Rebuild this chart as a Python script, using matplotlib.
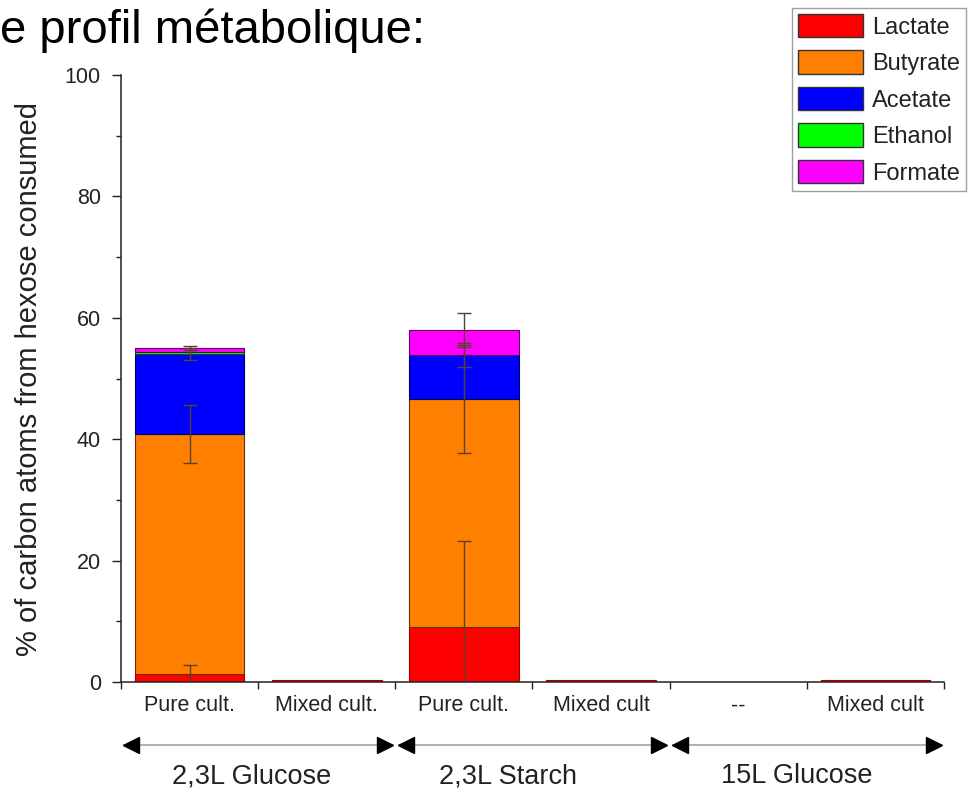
import matplotlib
matplotlib.use("Agg")
import matplotlib.pyplot as plt
import matplotlib.transforms as mtransforms
from matplotlib.patches import Patch
import numpy as np

plt.rcParams["font.family"] = ["Liberation Sans", "DejaVu Sans"]

# Six culture conditions along the x axis
categories = ["Pure cult.", "Mixed cult.", "Pure cult.", "Mixed cult", "--", "Mixed cult"]
groups = ["2,3L Glucose", "2,3L Starch", "15L Glucose"]

# % of carbon atoms from hexose consumed, per metabolite
lactate = [1.3, 0.4, 9.0, 0.4, 0.0, 0.4]
butyrate = [39.5, 0.0, 37.7, 0.0, 0.0, 0.0]
acetate = [13.2, 0.0, 7.2, 0.0, 0.0, 0.0]
ethanol = [0.3, 0.0, 0.0, 0.0, 0.0, 0.0]
formate = [0.7, 0.0, 4.1, 0.0, 0.0, 0.0]

# standard deviations on each stacked segment
lactate_err = [1.5, 0.0, 14.3, 0.0, 0.0, 0.0]
butyrate_err = [4.8, 0.0, 8.9, 0.0, 0.0, 0.0]
acetate_err = [1.0, 0.0, 2.0, 0.0, 0.0, 0.0]
ethanol_err = [0.0, 0.0, 0.0, 0.0, 0.0, 0.0]
formate_err = [0.3, 0.0, 2.8, 0.0, 0.0, 0.0]

# (name, values, errors, fill, outline)
series = [
    ("Lactate", lactate, lactate_err, "#ff0000", "#a00000"),
    ("Butyrate", butyrate, butyrate_err, "#ff8000", "#6a3000"),
    ("Acetate", acetate, acetate_err, "#0000ff", "#000060"),
    ("Ethanol", ethanol, ethanol_err, "#00ff00", "#006000"),
    ("Formate", formate, formate_err, "#ff00ff", "#600060"),
]

W, H = 978, 789
fig = plt.figure(figsize=(W / 100, H / 100), dpi=100)
ax = fig.add_axes([121 / W, 1 - 682 / H, (944 - 121) / W, (682 - 75) / H])

x = np.arange(len(categories))
bottom = np.zeros(len(categories))
err_tops = []
for name, vals, errs, col, edge in series:
    vals = np.array(vals)
    nz = vals > 0
    ax.bar(x[nz], vals[nz], width=0.8, bottom=bottom[nz], color=col,
           edgecolor=edge, linewidth=0.8, zorder=2)
    bottom = bottom + vals
    err_tops.append((bottom.copy(), np.array(errs)))

for tops, errs in err_tops:
    mask = errs > 0
    ax.errorbar(x[mask], tops[mask], yerr=errs[mask], fmt="none", ecolor="#5a4030",
                elinewidth=1.0, capsize=5, capthick=1.0, zorder=3)

ax.set_xlim(-0.5, len(categories) - 0.5)
ax.set_ylim(0, 100)
for s in ("top", "right"):
    ax.spines[s].set_visible(False)
for s in ("left", "bottom"):
    ax.spines[s].set_linewidth(1.1)
    ax.spines[s].set_color("#222222")

ax.set_yticks(np.arange(0, 101, 20))
ax.set_yticks(np.arange(10, 100, 20), minor=True)
ax.tick_params(axis="y", which="major", direction="out", length=6.5, width=1.0,
               labelsize=15.5, pad=8, colors="#222222")
ax.tick_params(axis="y", which="minor", direction="out", length=3.5, width=1.0,
               colors="#222222")

ax.set_xticks(np.arange(-0.5, len(categories), 1.0))
ax.set_xticklabels([])
ax.tick_params(axis="x", which="major", direction="out", length=5, width=1.0,
               colors="#222222")

trans = mtransforms.blended_transform_factory(ax.transData, ax.transAxes)
for xi, lab in zip(x, categories):
    ax.text(xi, -0.0395, lab, transform=trans, ha="center", va="center",
            fontsize=15.5, color="#222222")

# double-headed arrows spanning each experiment group
spans = [(-0.5, 1.5), (1.5, 3.5), (3.5, 5.5)]
label_shift = [-0.045, -0.18, -0.075]
y_arrow = -0.104
for (a, b), g, dx in zip(spans, groups, label_shift):
    x0 = a + 0.025
    x1 = b - 0.025
    ax.plot([x0, x1], [y_arrow, y_arrow], transform=trans, color="#aaaaaa",
            linewidth=1.3, clip_on=False)
    ax.plot([x0 + 0.05], [y_arrow], transform=trans, marker="<", markersize=12,
            color="black", clip_on=False, linestyle="none")
    ax.plot([x1 - 0.05], [y_arrow], transform=trans, marker=">", markersize=12,
            color="black", clip_on=False, linestyle="none")
    ax.text((a + b) / 2 + dx, -0.155, g, transform=trans, ha="center", va="center",
            fontsize=19.5, color="#222222")

fig.text(29 / W, 1 - 379 / H, "% of carbon atoms from hexose consumed",
         rotation=90, ha="center", va="center", fontsize=21, color="#222222")

fig.text(0.0, 1 - 43 / H, "e profil métabolique:", ha="left", va="baseline",
         fontsize=34, color="black")

handles = [Patch(facecolor=col, edgecolor="#333333", linewidth=1.0, label=name)
           for name, _, _, col, _ in series]
leg = fig.legend(handles=handles, loc="upper left",
                 bbox_to_anchor=(792 / W, 1 - 8 / H), fontsize=17,
                 frameon=True, fancybox=False, handlelength=2.75, handleheight=1.15,
                 handletextpad=0.4, labelspacing=0.5, borderpad=0.25,
                 borderaxespad=0)
leg.get_frame().set_edgecolor("#888888")
leg.get_frame().set_linewidth(1.0)
for t in leg.get_texts():
    t.set_color("#222222")

fig.savefig("out.png", dpi=100)
